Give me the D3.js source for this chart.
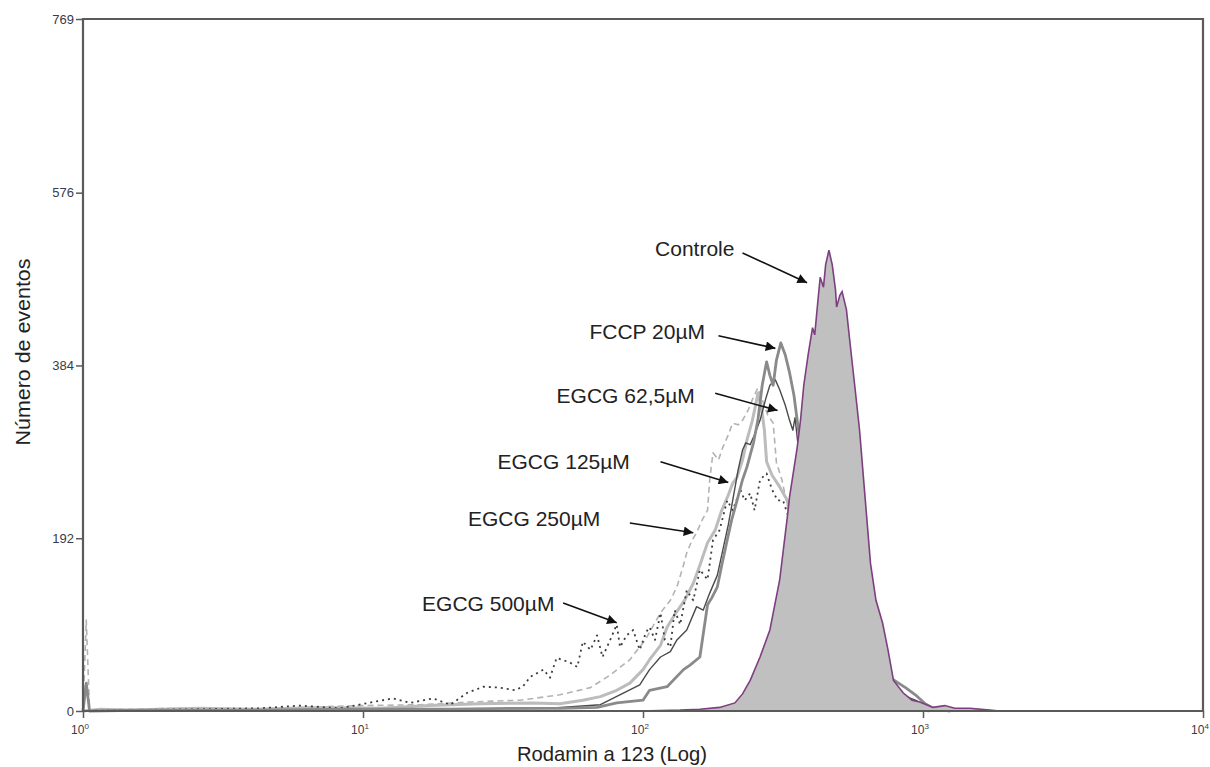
<!DOCTYPE html>
<html lang="pt">
  <head>
    <meta charset="UTF-8" />
    <title>Rodamina 123</title>
    <script src="https://d3js.org/d3.v7.min.js"></script>
    <style>
      body {
        margin: 0;
        background: #fff;
        font-family: "Liberation Sans", Arial, sans-serif;
      }
    </style>
  </head>
  <body>
    <script>
      // histogram data: [channel (0-1023, 4 decades log), number of events]
      const controle = [
        [509, 0], [546, 1], [564, 2], [582, 4], [596, 9], [603, 19], [610, 34],
        [619, 60], [628, 90], [637, 146], [644, 216], [646, 238], [653, 293],
        [656, 323], [659, 362], [663, 396], [667, 426], [669, 418], [672, 457],
        [674, 482], [677, 471], [679, 496], [682, 512], [685, 496], [688, 468],
        [689, 449], [692, 462], [694, 466], [698, 446], [701, 412], [706, 357],
        [710, 312], [715, 238], [720, 164], [725, 123], [731, 98], [736, 68],
        [741, 34], [750, 20], [758, 12], [765, 10], [777, 4], [788, 6],
        [797, 3], [811, 3], [829, 1], [838, 0]
      ];
      const fccp20 = [
        [0, 0], [3, 31], [6, 0], [61, 1], [153, 1], [244, 2], [336, 2], [400, 3],
        [436, 3], [470, 4], [488, 9], [512, 12], [518, 23], [534, 27], [549, 46],
        [555, 51], [564, 60], [571, 118], [575, 126], [580, 138], [584, 162],
        [589, 190], [593, 212], [598, 234], [603, 257], [607, 271], [613, 298],
        [617, 323], [621, 362], [625, 388], [628, 373], [631, 362], [634, 390],
        [638, 409], [642, 396], [646, 376], [650, 351], [653, 323], [656, 296],
        [660, 257], [665, 201], [674, 123], [683, 90], [701, 57], [720, 46],
        [738, 37], [752, 26], [761, 18], [770, 8], [779, 2], [793, 0]
      ];
      const egcg62 = [
        [0, 0], [61, 1], [198, 1], [336, 2], [427, 3], [473, 7], [494, 20],
        [509, 29], [518, 46], [528, 60], [537, 66], [543, 79], [552, 90],
        [561, 116], [567, 112], [573, 131], [580, 151], [585, 179], [590, 207],
        [594, 234], [599, 268], [603, 290], [606, 298], [610, 296], [614, 307],
        [619, 323], [624, 346], [628, 362], [633, 368], [637, 357], [642, 340],
        [646, 323], [649, 312], [651, 326], [654, 293], [660, 234], [669, 146],
        [683, 84], [701, 51], [720, 34], [742, 21], [761, 12], [774, 4], [788, 0]
      ];
      const egcg125 = [
        [0, 0], [16, 2], [43, 1], [107, 3], [162, 2], [217, 4], [272, 3],
        [317, 6], [363, 8], [411, 9], [436, 8], [457, 12], [473, 16], [488, 23],
        [500, 31], [512, 46], [518, 57], [528, 73], [534, 93], [541, 107],
        [550, 123], [558, 142], [564, 162], [571, 187], [578, 201], [584, 223],
        [590, 240], [594, 253], [598, 260], [603, 279], [607, 301], [612, 323],
        [616, 346], [617, 353], [620, 340], [623, 312], [625, 277], [630, 262],
        [637, 249], [644, 234], [646, 218], [656, 168], [669, 101], [683, 57],
        [701, 29], [729, 12], [756, 3], [774, 0]
      ];
      const egcg250 = [
        [0, 0], [3, 101], [6, 0], [34, 2], [89, 3], [144, 2], [198, 4], [253, 6],
        [308, 7], [354, 10], [400, 12], [436, 18], [464, 26], [482, 40],
        [500, 57], [514, 79], [528, 109], [537, 123], [543, 138], [549, 162],
        [552, 176], [557, 190], [561, 198], [566, 212], [571, 223], [573, 257],
        [576, 287], [581, 279], [585, 293], [590, 307], [594, 320], [599, 318],
        [603, 323], [608, 334], [612, 346], [617, 359], [621, 346], [626, 329],
        [631, 320], [634, 276], [639, 257], [643, 234], [651, 190], [665, 112],
        [683, 62], [710, 23], [738, 7], [765, 0]
      ];
      const egcg500 = [
        [0, 0], [34, 1], [107, 2], [162, 3], [198, 6], [235, 3], [283, 14],
        [299, 9], [320, 14], [336, 7], [351, 20], [366, 27], [381, 26],
        [395, 23], [402, 27], [409, 38], [421, 46], [427, 37], [433, 59],
        [445, 54], [452, 49], [457, 77], [464, 68], [470, 84], [475, 60],
        [482, 79], [488, 96], [491, 71], [497, 84], [503, 90], [509, 68],
        [515, 88], [518, 93], [523, 79], [528, 109], [532, 79], [537, 71],
        [541, 112], [546, 96], [552, 134], [558, 123], [564, 157], [571, 146],
        [576, 190], [582, 201], [589, 234], [594, 223], [601, 246], [605, 234],
        [610, 242], [614, 223], [619, 257], [625, 264], [630, 246], [635, 234],
        [640, 234], [645, 216], [648, 190], [656, 146], [669, 90], [688, 51],
        [710, 23], [738, 7], [765, 0]
      ];

      const yTicks = [0, 192, 384, 576, 769];
      const xTicks = [1, 10, 100, 1000, 10000];
      const xTickExp = ["0", "2", "2", "3", "4"];

      // labels: text start [channel, count], arrow from -> to
      const labels = ["Controle", "FCCP 20µM", "EGCG 62,5µM", "EGCG 125µM", "EGCG 250µM", "EGCG 500µM"];
      const labelPos = [[523, 506], [463, 413], [433, 342], [379, 269], [352, 206], [310, 111]];
      const arrowFrom = [[603, 509], [581, 417], [578, 353], [528, 277], [500, 209], [439, 120]];
      const arrowTo = [[662, 476], [633, 403], [635, 334], [590, 254], [558, 198], [488, 98]];

      const width = 1210;
      const height = 767;
      const margin = { top: 19, right: 7, bottom: 56, left: 83 };

      const svg = d3
        .select("body")
        .append("svg")
        .attr("width", width)
        .attr("height", height);

      const x = d3
        .scaleLog()
        .domain([1, 10000])
        .range([margin.left, width - margin.right]);
      const y = d3
        .scaleLinear()
        .domain([0, 769])
        .range([height - margin.bottom, margin.top]);

      const chan = (c) => Math.pow(10, c / 256);

      const line = d3
        .line()
        .x((d) => x(chan(d[0])))
        .y((d) => y(d[1]));

      const area = d3
        .area()
        .x((d) => x(chan(d[0])))
        .y0(y(0))
        .y1((d) => y(d[1]));

      svg
        .append("defs")
        .append("marker")
        .attr("id", "arrow")
        .attr("viewBox", "0 0 10 10")
        .attr("refX", 10)
        .attr("refY", 5)
        .attr("markerWidth", 8)
        .attr("markerHeight", 6)
        .attr("markerUnits", "strokeWidth")
        .attr("orient", "auto")
        .append("path")
        .attr("d", "M0,0L10,5L0,10Z")
        .attr("fill", "#111");

      // series, drawn under the control histogram
      const series = [
        { data: egcg250, color: "#b3b3b3", w: 1.6, dash: "6,4" },
        { data: egcg125, color: "#bcbcbc", w: 3 },
        { data: egcg500, color: "#3c3c3c", w: 1.8, dash: "2,4" },
        { data: egcg62, color: "#4a4a4a", w: 1.4 },
        { data: fccp20, color: "#8a8a8a", w: 2.8 },
      ];

      svg
        .selectAll("path.serie")
        .data(series)
        .join("path")
        .attr("class", "serie")
        .attr("d", (s) => line(s.data))
        .attr("fill", "none")
        .attr("stroke", (s) => s.color)
        .attr("stroke-width", (s) => s.w)
        .attr("stroke-dasharray", (s) => s.dash || null)
        .attr("stroke-linejoin", "round");

      svg
        .append("path")
        .attr("d", area(controle))
        .attr("fill", "#c0c0c0");
      svg
        .append("path")
        .attr("d", line(controle))
        .attr("fill", "none")
        .attr("stroke", "#7d3f80")
        .attr("stroke-width", 1.6);

      // frame
      const axisColor = "#5a5a5a";
      svg
        .append("path")
        .attr(
          "d",
          `M${x(1)},${y(0)}V${y(769)}H${x(10000)}V${y(0)}Z`
        )
        .attr("fill", "none")
        .attr("stroke", axisColor)
        .attr("stroke-width", 2.2);

      // y axis
      const yAxis = svg
        .append("g")
        .attr("transform", `translate(${margin.left},0)`)
        .call(d3.axisLeft(y).tickValues(yTicks).tickSize(7).tickPadding(2));
      yAxis.select(".domain").remove();
      yAxis.selectAll("line").attr("stroke", axisColor).attr("stroke-width", 1.5);
      yAxis
        .selectAll("text")
        .attr("font-family", "Liberation Sans, Arial, sans-serif")
        .attr("font-size", 13)
        .attr("fill", "#3a3a4a");

      // x axis
      const xAxis = svg
        .append("g")
        .attr("transform", `translate(0,${y(0)})`)
        .call(d3.axisBottom(x).tickValues(xTicks).tickSize(7).tickFormat(""));
      xAxis.select(".domain").remove();
      xAxis.selectAll("line").attr("stroke", axisColor).attr("stroke-width", 1.5);

      const xl = svg
        .selectAll("text.xtick")
        .data(xTicks)
        .join("text")
        .attr("class", "xtick")
        .attr("x", (d) => x(d) - 3)
        .attr("y", y(0) + 23)
        .attr("text-anchor", "middle")
        .attr("font-size", 12)
        .attr("fill", "#3a3a4a");
      xl.append("tspan").text("10");
      xl.append("tspan")
        .attr("dy", -5)
        .attr("font-size", 8)
        .text((d, i) => Math.round(Math.log10(d)));

      // axis titles
      svg
        .append("text")
        .attr("x", 517)
        .attr("y", 761)
        .attr("font-size", 21)
        .attr("fill", "#222")
        .attr("textLength", 190)
        .attr("lengthAdjust", "spacingAndGlyphs")
        .text("Rodamin a 123 (Log)");

      svg
        .append("text")
        .attr("transform", "translate(30,352) rotate(-90)")
        .attr("text-anchor", "middle")
        .attr("font-size", 21)
        .attr("fill", "#222")
        .attr("textLength", 187)
        .attr("lengthAdjust", "spacingAndGlyphs")
        .text("Número de eventos");

      // annotations
      labels.forEach((t, i) => {
        svg
          .append("text")
          .attr("x", x(chan(labelPos[i][0])))
          .attr("y", y(labelPos[i][1]))
          .attr("font-size", 21)
          .attr("fill", "#222")
          .text(t);
        svg
          .append("line")
          .attr("x1", x(chan(arrowFrom[i][0])))
          .attr("y1", y(arrowFrom[i][1]))
          .attr("x2", x(chan(arrowTo[i][0])))
          .attr("y2", y(arrowTo[i][1]))
          .attr("stroke", "#111")
          .attr("stroke-width", 1.6)
          .attr("marker-end", "url(#arrow)");
      });
    </script>
  </body>
</html>
